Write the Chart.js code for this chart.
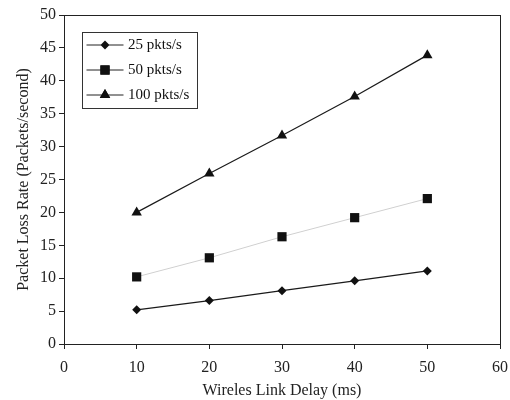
<!DOCTYPE html>
<html>
<head>
<meta charset="utf-8">
<script src="https://cdn.jsdelivr.net/npm/chart.js@4/dist/chart.umd.min.js"></script>
<style>
  html, body { margin: 0; padding: 0; background: #fff; }
  #wrap { width: 510px; height: 400px; position: relative; }
</style>
</head>
<body>
<div id="wrap"><canvas id="c" width="510" height="400"></canvas></div>
<script>
const delays = [10, 20, 30, 40, 50];
const rate25 = [5.2, 6.6, 8.1, 9.6, 11.1];
const rate50 = [10.2, 13.1, 16.3, 19.2, 22.1];
const rate100 = [20.0, 25.9, 31.7, 37.6, 43.9];
const seriesLabels = ['25 pkts/s', '50 pkts/s', '100 pkts/s'];
const xTitle = 'Wireles Link Delay (ms)';
const yTitle = 'Packet Loss Rate (Packets/second)';

const FONT = 'Liberation Serif';

function pts(vals) { return delays.map((d, i) => ({ x: d, y: vals[i] })); }

const framePlugin = {
  id: 'frame',
  afterDraw(chart) {
    const { ctx, chartArea: a } = chart;
    ctx.save();
    ctx.strokeStyle = '#222';
    ctx.lineWidth = 1;
    ctx.strokeRect(Math.round(a.left) + 0.5, Math.round(a.top) + 0.5, Math.round(a.right - a.left), Math.round(a.bottom - a.top));
    // legend
    const lx = 82.5, ly = 32.5, lw = 115, lh = 76;
    ctx.fillStyle = '#fff';
    ctx.fillRect(lx, ly, lw, lh);
    ctx.strokeStyle = '#333';
    ctx.strokeRect(lx, ly, lw, lh);
    chart.data.datasets.forEach((ds, i) => {
      const cy = ly + 12.5 + i * 25;
      ctx.strokeStyle = '#222';
      ctx.lineWidth = 1;
      ctx.beginPath();
      ctx.moveTo(lx + 4, cy);
      ctx.lineTo(lx + 41, cy);
      ctx.stroke();
      Chart.helpers.drawPoint(ctx, {
        pointStyle: ds.pointStyle,
        radius: ds.pointRadius,
        rotation: 0,
        borderWidth: 0
      }, lx + 22.5, cy);
      ctx.fillStyle = '#111';
      ctx.fill();
      ctx.font = '15px "' + FONT + '"';
      ctx.textBaseline = 'middle';
      ctx.textAlign = 'left';
      ctx.fillText(ds.label, lx + 45.5, cy + 0.5);
    });
    ctx.restore();
  }
};

new Chart(document.getElementById('c'), {
  type: 'line',
  data: {
    datasets: [
      { label: seriesLabels[0], data: pts(rate25), borderColor: '#1a1a1a', borderWidth: 1.2,
        pointStyle: 'rectRot', pointRadius: 4.5, pointBackgroundColor: '#111', pointBorderWidth: 0 },
      { label: seriesLabels[1], data: pts(rate50), borderColor: '#d0d0d0', borderWidth: 1,
        pointStyle: 'rect', pointRadius: 6.5, pointBackgroundColor: '#111', pointBorderWidth: 0 },
      { label: seriesLabels[2], data: pts(rate100), borderColor: '#1a1a1a', borderWidth: 1.2,
        pointStyle: 'triangle', pointRadius: 6, pointBackgroundColor: '#111', pointBorderWidth: 0 }
    ]
  },
  options: {
    responsive: false,
    animation: false,
    layout: { padding: { left: 0, right: 10, top: 15, bottom: 0 } },
    plugins: { legend: { display: false }, tooltip: { enabled: false } },
    scales: {
      x: {
        type: 'linear', min: 0, max: 60,
        afterFit(s) { s.height = 56; s.paddingRight = 0; s.paddingLeft = 0; },
        ticks: { stepSize: 10, color: '#222', font: { family: FONT, size: 16 }, padding: 9 },
        grid: { drawOnChartArea: false, drawTicks: true, tickLength: 5, color: '#222' },
        border: { display: true, color: '#222' },
        title: { display: true, text: xTitle, color: '#222', font: { family: FONT, size: 16 }, padding: { top: 0, bottom: 0 } }
      },
      y: {
        min: 0, max: 50,
        afterFit(s) { s.width = 64; s.paddingTop = 0; s.paddingBottom = 0; },
        ticks: { stepSize: 5, color: '#222', font: { family: FONT, size: 16 }, padding: 3 },
        grid: { drawOnChartArea: false, drawTicks: true, tickLength: 5, color: '#222' },
        border: { display: true, color: '#222' },
        title: { display: true, text: yTitle, color: '#222', font: { family: FONT, size: 16 }, padding: { top: 14, bottom: 0 } }
      }
    }
  },
  plugins: [framePlugin]
});
</script>
</body>
</html>
